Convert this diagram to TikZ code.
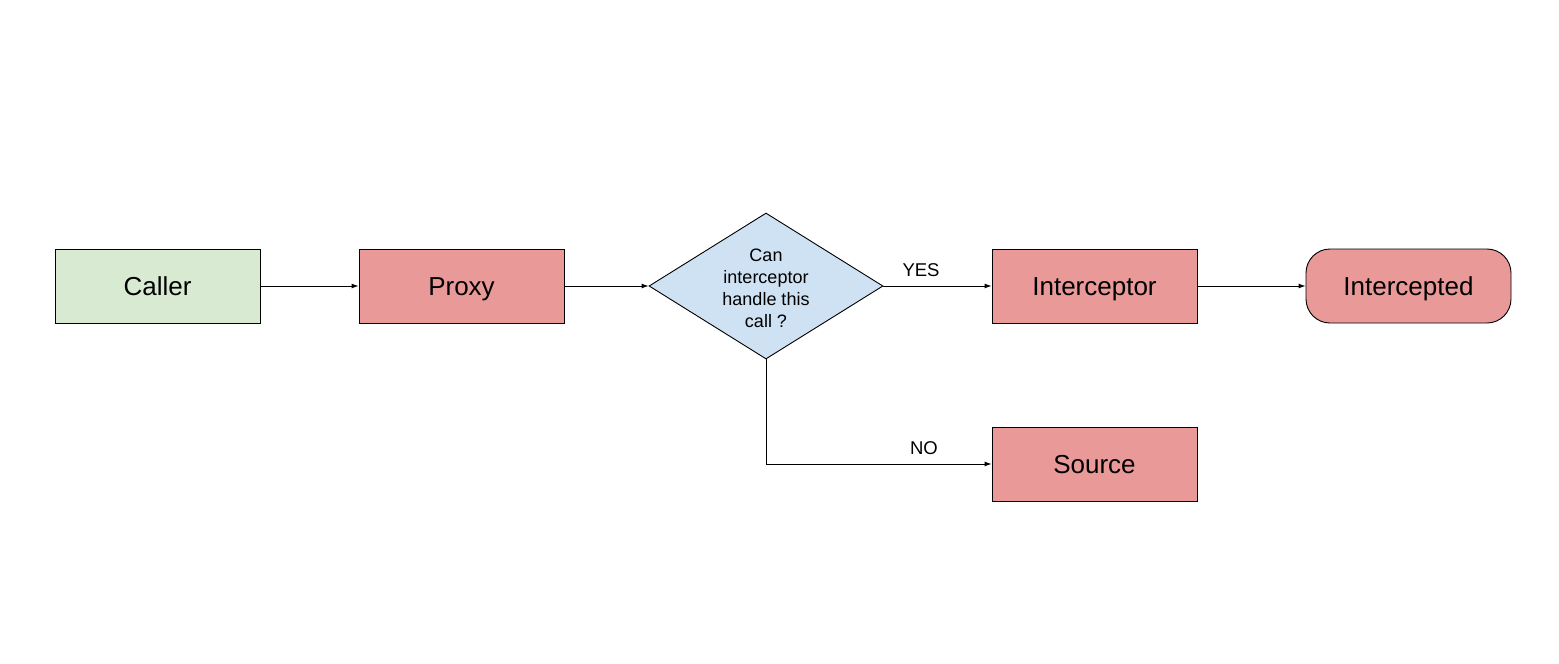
\documentclass[tikz,border=0pt]{standalone}
\usepackage{fontspec}
\setmainfont{Liberation Sans}
\usetikzlibrary{shapes.geometric,arrows.meta}
\definecolor{cgreen}{HTML}{D9EAD3}
\definecolor{cred}{HTML}{EA9999}
\definecolor{cblue}{HTML}{CFE2F3}
\begin{document}
\begin{tikzpicture}[x=1pt,y=-1pt,
  box/.style={draw=black, line width=0.9pt, minimum width=205pt, minimum height=74pt, inner sep=0pt, text height=18.6pt, text depth=0pt, font=\fontsize{26}{30}\selectfont},
  redbox/.style={box, fill=cred},
  conn/.style={draw=black, line width=0.9pt, -{Latex[length=7pt,width=5pt]}},
  lbl/.style={font=\fontsize{18.5}{22}\selectfont}]
\useasboundingbox (0,0) rectangle (1559,664);
\fill[white] (0,0) rectangle (1559,664);
\node[box, fill=cgreen] (caller) at (157.5,286) {Caller};
\node[redbox] (proxy) at (461.5,286) {Proxy};
\node[diamond, draw=black, line width=0.9pt, fill=cblue, minimum width=234pt, minimum height=146pt, inner sep=0pt] (dec) at (766,286) {};
\node[align=center, font=\fontsize{18}{22}\selectfont] (dectext) at (766,288) {Can\\interceptor\\handle this\\call ?};
\node[redbox] (icpt) at (1094.5,286) {Interceptor};
\node[redbox, rounded corners=24pt] (icpd) at (1408.5,286) {Intercepted};
\node[redbox] (src) at (1094.5,464) {Source};
\coordinate (bend) at (766,464);
\draw[conn] (caller.east) -- (proxy.west);
\draw[conn] (proxy.east) -- (dec.west);
\draw[conn] (dec.east) -- (icpt.west);
\draw[conn] (icpt.east) -- (icpd.west);
\draw[conn] (dec.south) -- (bend) -- (src.west);
\node[lbl] (yes) at (921,270) {YES};
\node[lbl] (no) at (924,448) {NO};
\end{tikzpicture}
\end{document}
